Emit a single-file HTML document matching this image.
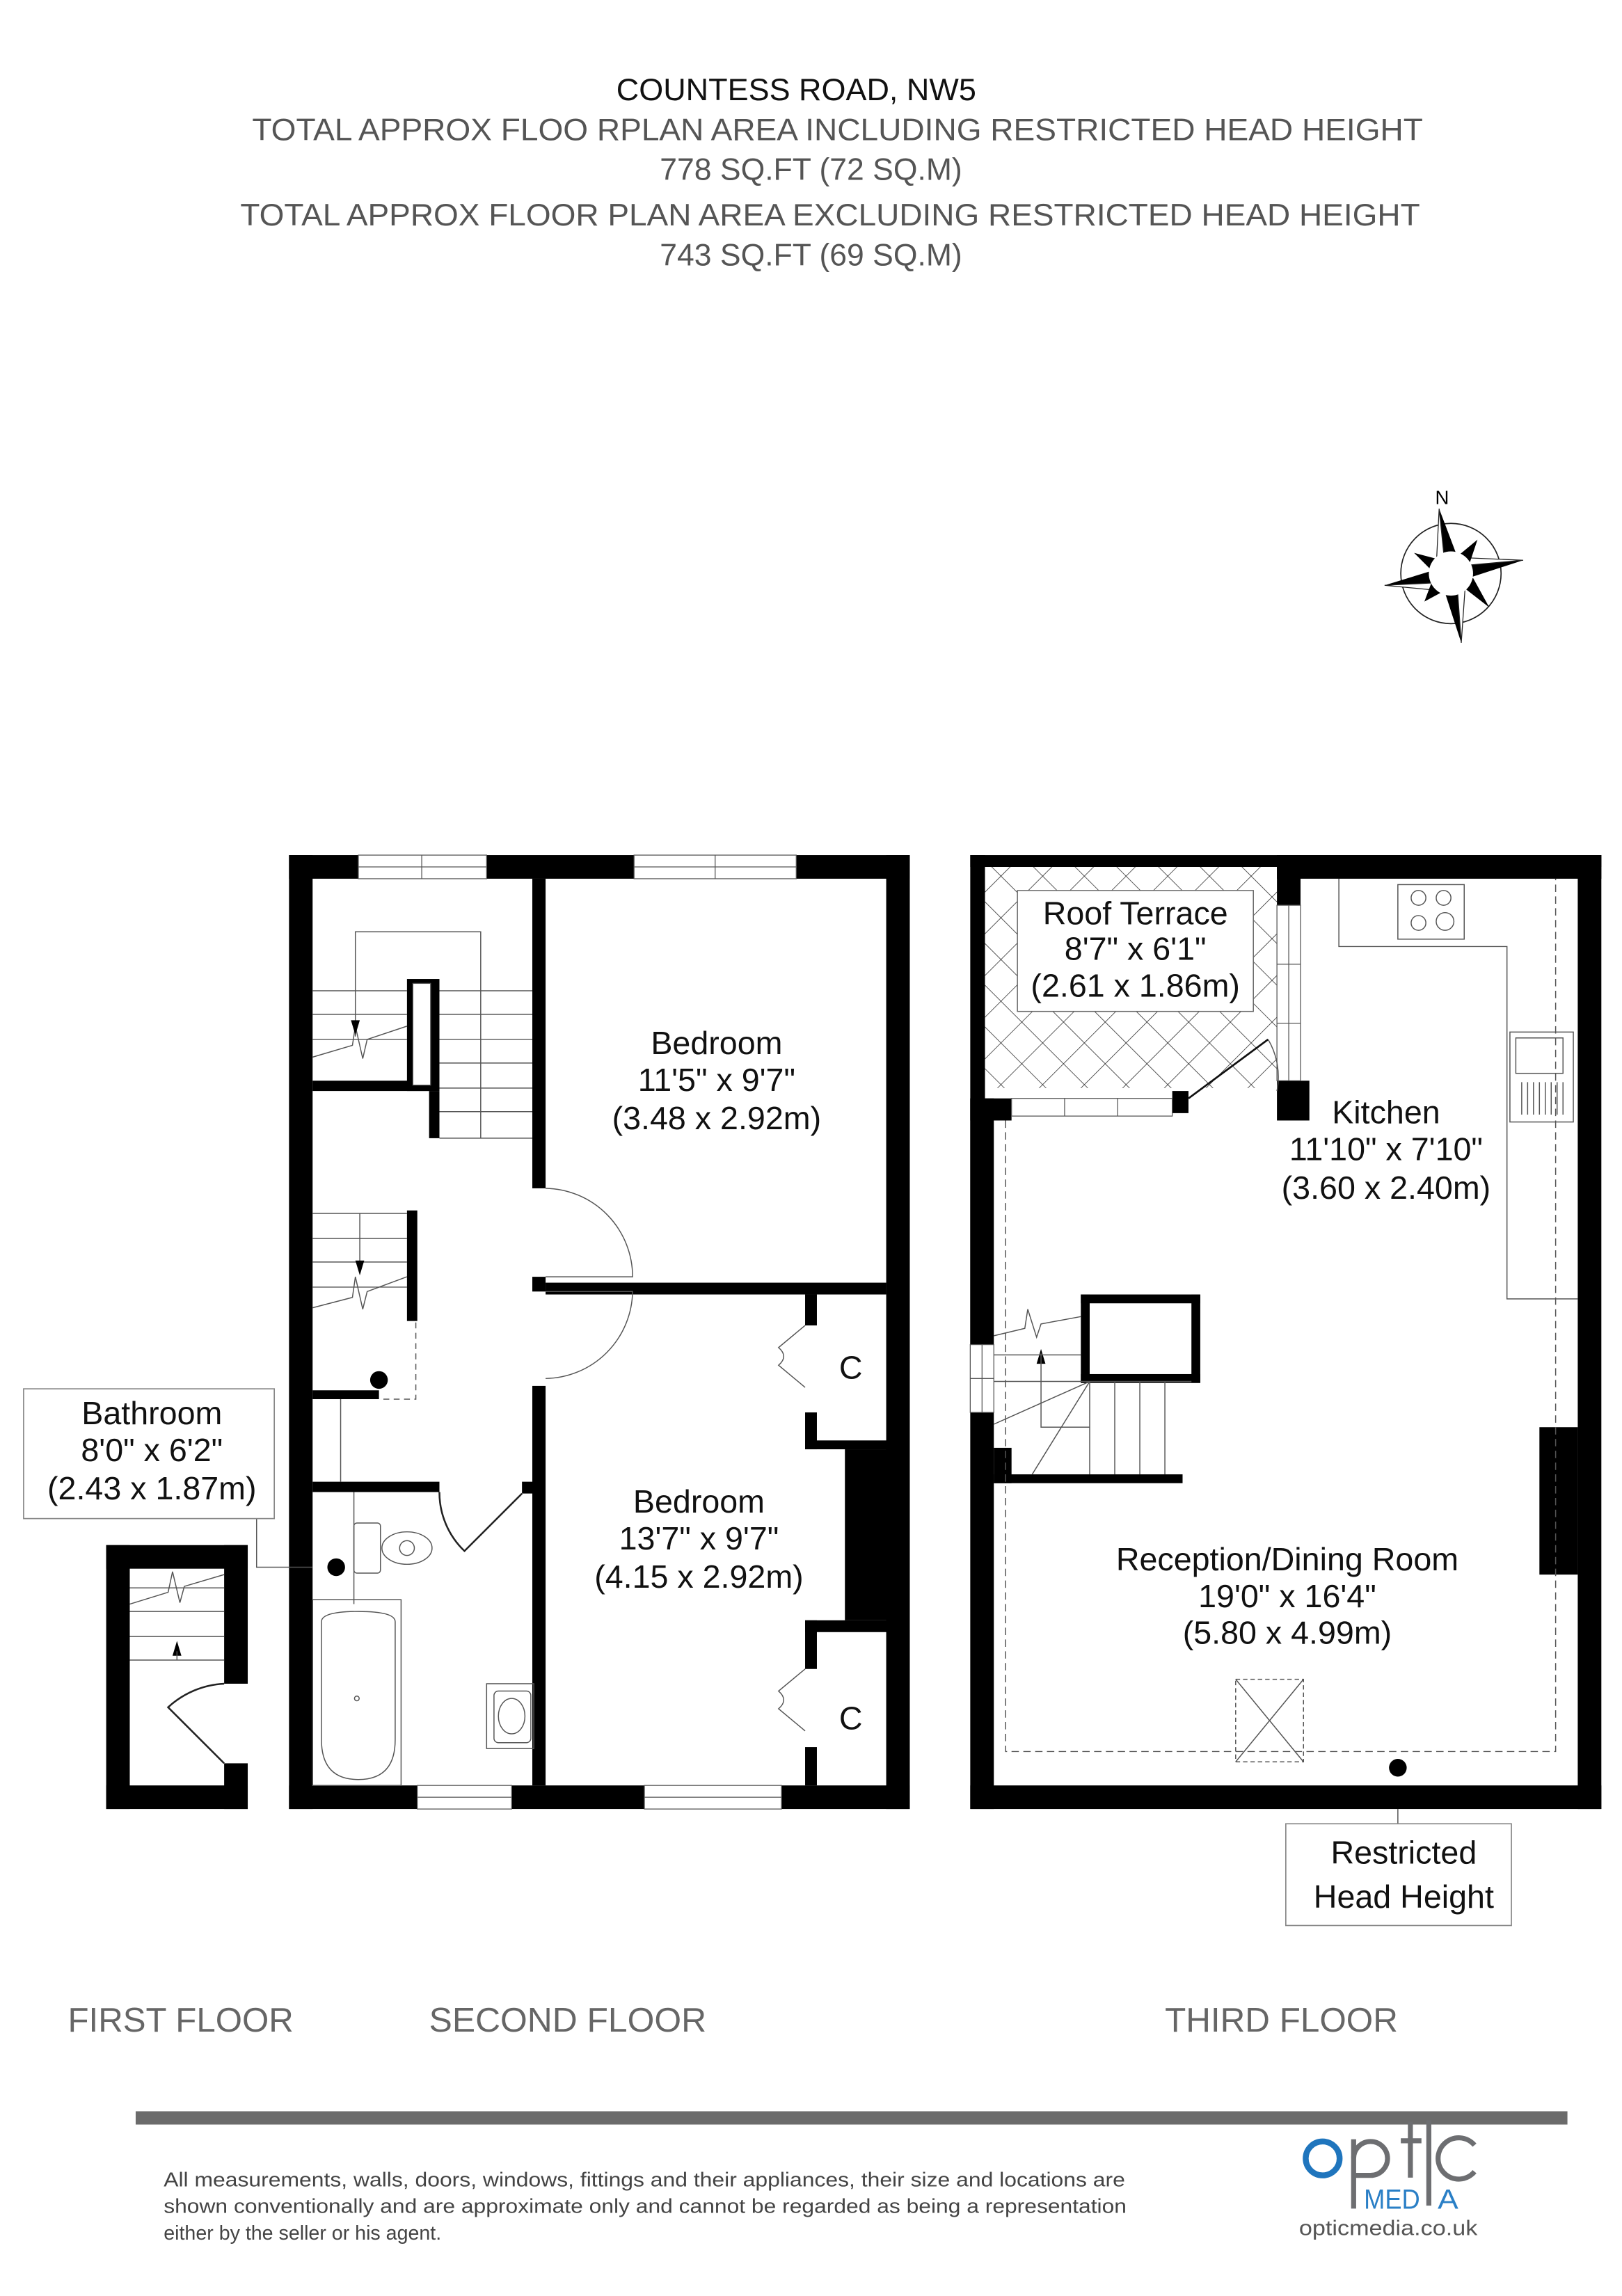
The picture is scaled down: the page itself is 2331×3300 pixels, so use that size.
<!DOCTYPE html>
<html><head><meta charset="utf-8"><style>
html,body{margin:0;padding:0;background:#fff;}
svg{display:block;}
text{font-family:"Liberation Sans",Arial,sans-serif;}
</style></head><body>
<svg width="2331" height="3300" viewBox="0 0 1100 1557.3" xmlns="http://www.w3.org/2000/svg">
<defs>
<pattern id="hatch" width="20" height="20" patternUnits="userSpaceOnUse" patternTransform="rotate(45)">
<line x1="0" y1="0" x2="0" y2="20" stroke="#222" stroke-width="0.7"/>
<line x1="0" y1="0" x2="20" y2="0" stroke="#222" stroke-width="0.7"/>
</pattern>
</defs>
<rect width="1100" height="1557.3" fill="#fff"/>

<!-- Header -->
<g text-anchor="middle" font-size="21">
<text x="540" y="68" fill="#111" textLength="244" lengthAdjust="spacingAndGlyphs">COUNTESS ROAD, NW5</text>
<text x="568" y="95" fill="#555" textLength="794" lengthAdjust="spacingAndGlyphs">TOTAL APPROX FLOO RPLAN AREA INCLUDING RESTRICTED HEAD HEIGHT</text>
<text x="550" y="122" fill="#555">778 SQ.FT (72 SQ.M)</text>
<text x="563" y="153" fill="#555" textLength="800" lengthAdjust="spacingAndGlyphs">TOTAL APPROX FLOOR PLAN AREA EXCLUDING RESTRICTED HEAD HEIGHT</text>
<text x="550" y="180" fill="#555">743 SQ.FT (69 SQ.M)</text>
</g>

<!-- Compass -->
<g>
<text x="978" y="342" font-size="13" text-anchor="middle">N</text>
<circle cx="984" cy="389" r="34" fill="none" stroke="#222" stroke-width="0.8"/>
<polygon points="976,345 990,382 980,384" fill="#000"/>
<polygon points="976,345 980,384 974,385" fill="#fff" stroke="#222" stroke-width="0.6"/>
<polygon points="991,436 978,396 988,394" fill="#000"/>
<polygon points="991,436 988,394 994,393" fill="#fff" stroke="#222" stroke-width="0.6"/>
<polygon points="1033,380 990,394 988,384" fill="#000"/>
<polygon points="1033,380 988,384 987,378" fill="#fff" stroke="#222" stroke-width="0.6"/>
<polygon points="939,397 978,385 980,395" fill="#000"/>
<polygon points="939,397 980,395 981,401" fill="#fff" stroke="#222" stroke-width="0.6"/>
<polygon points="1002,366 996,384 990,376" fill="#000"/>
<polygon points="966,408 972,392 979,401" fill="#000"/>
<polygon points="1010,412 992,398 999,392" fill="#000"/>
<polygon points="959,375 978,380 972,388" fill="#000"/>
<circle cx="984" cy="389" r="15" fill="#fff"/>
</g>

<!-- ===== SECOND FLOOR ===== -->
<g fill="#000">
<rect x="196" y="580" width="421" height="16"/>
<rect x="196" y="1211" width="421" height="16"/>
<rect x="196" y="580" width="16" height="647"/>
<rect x="601" y="580" width="16" height="647"/>
<rect x="361" y="596" width="9" height="210"/>
<rect x="361" y="866" width="9" height="10"/>
<rect x="361" y="940" width="9" height="271"/>
<rect x="370" y="870" width="231" height="8"/>
<rect x="212" y="733" width="86" height="7"/>
<rect x="276" y="664" width="22" height="76"/>
<rect x="291" y="740" width="7" height="32"/>
<rect x="276" y="821" width="7" height="75"/>
<rect x="212" y="943" width="45" height="6"/>
<rect x="212" y="1005" width="86" height="7"/>
<rect x="354" y="1005" width="8" height="8"/>
<rect x="546" y="878" width="8" height="21"/>
<rect x="546" y="958" width="8" height="25"/>
<rect x="546" y="977" width="56" height="6"/>
<rect x="573" y="983" width="29" height="116"/>
<rect x="546" y="1099" width="56" height="8"/>
<rect x="546" y="1099" width="8" height="33"/>
<rect x="546" y="1185" width="8" height="26"/>
<circle cx="257" cy="936" r="6"/>
<circle cx="228" cy="1063" r="6"/>
</g>
<g fill="#fff" stroke="#555" stroke-width="0.6">
<rect x="243" y="580" width="87" height="16"/><line x1="243" y1="588" x2="330" y2="588"/><line x1="286" y1="580" x2="286" y2="596"/>
<rect x="430" y="580" width="110" height="16"/><line x1="430" y1="588" x2="540" y2="588"/><line x1="485" y1="580" x2="485" y2="596"/>
<rect x="283" y="1211" width="64" height="16"/><line x1="283" y1="1219" x2="347" y2="1219"/>
<rect x="437" y="1211" width="93" height="16"/><line x1="437" y1="1219" x2="530" y2="1219"/>
<rect x="280" y="667" width="12" height="69"/>
</g>
<g fill="none" stroke="#555" stroke-width="0.7">
<polyline points="241,703 241,632 326,632 326,772"/>
<line x1="212" y1="672" x2="276" y2="672"/><line x1="212" y1="688" x2="276" y2="688"/><line x1="212" y1="705" x2="276" y2="705"/>
<line x1="298" y1="672" x2="361" y2="672"/><line x1="298" y1="688" x2="361" y2="688"/><line x1="298" y1="705" x2="361" y2="705"/><line x1="298" y1="721" x2="361" y2="721"/><line x1="298" y1="738" x2="361" y2="738"/><line x1="298" y1="754" x2="361" y2="754"/>
<line x1="298" y1="772" x2="361" y2="772"/>
<polyline points="212,717 239,709 241,696 246,718 249,705 276,696"/>
<line x1="212" y1="823" x2="276" y2="823"/><line x1="212" y1="840" x2="276" y2="840"/><line x1="212" y1="856" x2="276" y2="856"/><line x1="212" y1="873" x2="276" y2="873"/>
<line x1="244" y1="823" x2="244" y2="860"/>
<polyline points="212,887 239,880 241,866 246,888 249,876 276,866"/>
<polyline points="282,897 282,949 257,949" stroke-dasharray="4,3"/>
<line x1="231" y1="949" x2="231" y2="1005"/>
<polyline points="174,1030 174,1063 212,1063"/>
<path d="M370,806 A60,60 0 0 1 429,866 L370,866"/>
<path d="M370,876 L429,876 A60,60 0 0 1 370,935"/>
<path d="M298,1012 A55,55 0 0 0 315,1052 L354,1013" stroke="#222" stroke-width="1.2"/>
<line x1="240" y1="1012" x2="240" y2="1088"/>
<rect x="212" y="1085" width="60" height="126"/>
<path d="M218,1100 Q218,1093 243,1093 Q268,1093 268,1100 L268,1180 Q268,1207 243,1207 Q218,1207 218,1180 Z"/>
<circle cx="242" cy="1152" r="1.6"/>
<rect x="240" y="1033" width="18" height="34" rx="2"/>
<ellipse cx="276" cy="1050" rx="17" ry="11"/>
<ellipse cx="276" cy="1050" rx="5" ry="5"/>
<rect x="330" y="1142" width="32" height="44"/>
<rect x="335" y="1147" width="25" height="35" rx="3"/>
<ellipse cx="347" cy="1164" rx="9" ry="12"/>
<path d="M546,899 L528,914 Q535,920 528,926 L546,941"/>
<path d="M546,1132 L528,1147 Q535,1153 528,1159 L546,1174"/>
</g>
<g fill="#000">
<polygon points="238,692 244,692 241,702"/>
<polygon points="241,855 247,855 244,865"/>
</g>

<rect x="16" y="942" width="170" height="88" fill="#fff" stroke="#888" stroke-width="0.8"/>
<g text-anchor="middle" font-size="22" fill="#111">
<text x="103" y="966">Bathroom</text>
<text x="103" y="991">8'0" x 6'2"</text>
<text x="103" y="1017">(2.43 x 1.87m)</text>
</g>

<g text-anchor="middle" font-size="22" fill="#111">
<text x="486" y="715">Bedroom</text>
<text x="486" y="740">11'5" x 9'7"</text>
<text x="486" y="766">(3.48 x 2.92m)</text>
<text x="474" y="1026">Bedroom</text>
<text x="474" y="1051">13'7" x 9'7"</text>
<text x="474" y="1077">(4.15 x 2.92m)</text>
<text x="577" y="935">C</text>
<text x="577" y="1173">C</text>
</g>

<!-- ===== FIRST FLOOR small ===== -->
<g fill="#000">
<rect x="72" y="1048" width="96" height="16"/>
<rect x="72" y="1048" width="16" height="179"/>
<rect x="152" y="1048" width="16" height="94"/>
<rect x="72" y="1211" width="96" height="16"/>
<rect x="152" y="1196" width="16" height="31"/>
<polygon points="117,1123 123,1123 120,1113"/>
</g>
<g fill="none" stroke="#555" stroke-width="0.7">
<line x1="88" y1="1077" x2="152" y2="1077"/><line x1="88" y1="1093" x2="152" y2="1093"/><line x1="88" y1="1110" x2="152" y2="1110"/><line x1="88" y1="1126" x2="152" y2="1126"/>
<line x1="120" y1="1120" x2="120" y2="1126"/>
<polyline points="88,1088 114,1080 117,1066 122,1087 125,1076 152,1068"/>
<path d="M152,1142 A60,60 0 0 0 114,1158 L152,1196" stroke="#222" stroke-width="1.2"/>
</g>

<!-- ===== THIRD FLOOR ===== -->
<rect x="668" y="588" width="198" height="150" fill="url(#hatch)"/>
<rect x="690" y="604" width="160" height="82" fill="#fff" stroke="#666" stroke-width="0.7"/>
<g fill="#000">
<rect x="658" y="580" width="428" height="8"/>
<rect x="866" y="580" width="220" height="16"/>
<rect x="866" y="580" width="16" height="34"/>
<rect x="658" y="580" width="10" height="332"/>
<rect x="658" y="745" width="28" height="15"/>
<rect x="658" y="745" width="16" height="167"/>
<rect x="658" y="958" width="16" height="269"/>
<rect x="674" y="982" width="12" height="24"/>
<rect x="658" y="1211" width="428" height="16"/>
<rect x="1070" y="580" width="16" height="647"/>
<rect x="795" y="740" width="11" height="15"/>
<rect x="866" y="733" width="22" height="27"/>
<rect x="733" y="878" width="81" height="6"/>
<rect x="733" y="878" width="6" height="60"/>
<rect x="808" y="878" width="6" height="60"/>
<rect x="733" y="932" width="81" height="6"/>
<rect x="674" y="1000" width="128" height="6"/>
<rect x="1044" y="968" width="26" height="100"/>
<circle cx="948" cy="1199" r="6"/>
<polygon points="703,925 709,925 706,915"/>
</g>
<g fill="#fff" stroke="#555" stroke-width="0.6">
<rect x="686" y="745" width="109" height="12"/><line x1="722" y1="745" x2="722" y2="757"/><line x1="758" y1="745" x2="758" y2="757"/>
<rect x="866" y="614" width="16" height="119"/><line x1="874" y1="614" x2="874" y2="733"/><line x1="866" y1="654" x2="882" y2="654"/><line x1="866" y1="694" x2="882" y2="694"/>
<rect x="658" y="912" width="16" height="46"/><line x1="658" y1="935" x2="674" y2="935"/><line x1="666" y1="912" x2="666" y2="958"/>
</g>
<g fill="none" stroke="#555" stroke-width="0.7">
<line x1="806" y1="745" x2="860" y2="705" stroke="#111" stroke-width="1.3"/>
<path d="M860,705 A50,50 0 0 1 866,740"/>
<polyline points="682,760 682,1188 1055,1188 1055,596" stroke-dasharray="5,3"/>
<polyline points="908,596 908,642 1022,642 1022,881 1070,881"/>
<rect x="948" y="600" width="45" height="37"/>
<circle cx="962" cy="609" r="5"/><circle cx="979" cy="609" r="5"/><circle cx="962" cy="626" r="5"/><circle cx="980" cy="625" r="6"/>
<rect x="1024" y="700" width="43" height="61"/>
<rect x="1028" y="704" width="32" height="24"/>
<path d="M1032,734 v22 M1036,734 v22 M1040,734 v22 M1044,734 v22 M1048,734 v22 M1052,734 v22 M1056,734 v22 M1060,734 v22"/>
<line x1="674" y1="919" x2="733" y2="919"/>
<line x1="674" y1="937" x2="808" y2="937"/>
<line x1="739" y1="937" x2="739" y2="1000"/><line x1="756" y1="937" x2="756" y2="1000"/><line x1="773" y1="937" x2="773" y2="1000"/><line x1="790" y1="937" x2="790" y2="1000"/>
<line x1="674" y1="966" x2="739" y2="937"/>
<line x1="700" y1="1000" x2="739" y2="937"/>
<polyline points="706,918 706,968 739,968"/>
<polyline points="674,906 695,901 697,888 703,907 706,898 733,893"/>
<rect x="838" y="1139" width="46" height="56" stroke-dasharray="3,2"/>
<line x1="838" y1="1139" x2="884" y2="1195"/><line x1="884" y1="1139" x2="838" y2="1195"/>
<line x1="948" y1="1227" x2="948" y2="1237"/>
</g>
<rect x="872" y="1237" width="153" height="69" fill="#fff" stroke="#888" stroke-width="0.8"/>
<g text-anchor="middle" font-size="22" fill="#111">
<text x="770" y="627">Roof Terrace</text>
<text x="770" y="651">8'7" x 6'1"</text>
<text x="770" y="676">(2.61 x 1.86m)</text>
<text x="940" y="762">Kitchen</text>
<text x="940" y="787">11'10" x 7'10"</text>
<text x="940" y="813">(3.60 x 2.40m)</text>
<text x="873" y="1065">Reception/Dining Room</text>
<text x="873" y="1090">19'0" x 16'4"</text>
<text x="873" y="1115">(5.80 x 4.99m)</text>
<text x="952" y="1264">Restricted</text>
<text x="952" y="1294">Head Height</text>
</g>

<g font-size="23" fill="#666">
<text x="46" y="1378" textLength="153" lengthAdjust="spacingAndGlyphs">FIRST FLOOR</text>
<text x="291" y="1378" textLength="188" lengthAdjust="spacingAndGlyphs">SECOND FLOOR</text>
<text x="790" y="1378" textLength="158" lengthAdjust="spacingAndGlyphs">THIRD FLOOR</text>
</g>

<rect x="92" y="1432" width="971" height="9" fill="#6b6b6b"/>

<g font-size="13.5" fill="#444">
<text x="111" y="1483" textLength="652" lengthAdjust="spacingAndGlyphs">All measurements, walls, doors, windows, fittings and their appliances, their size and locations are</text>
<text x="111" y="1501" textLength="653" lengthAdjust="spacingAndGlyphs">shown conventionally and are approximate only and cannot be regarded as being a representation</text>
<text x="111" y="1519">either by the seller or his agent.</text>
</g>

<!-- Logo -->
<circle cx="897" cy="1464" r="11.5" fill="none" stroke="#1f75bd" stroke-width="4"/>
<g fill="none" stroke="#6d6e71" stroke-width="3.4">
<line x1="918" y1="1451" x2="918" y2="1498"/>
<path d="M918,1464 A11.5,11.5 0 1 1 929.5,1475.5 L918,1475.5"/>
<line x1="956.5" y1="1439" x2="956.5" y2="1477"/>
<line x1="950" y1="1452" x2="964" y2="1452"/>
<line x1="969" y1="1438" x2="969" y2="1496"/>
<path d="M1000,1455 A14,14 0 1 0 1000,1473"/>
</g>
<text x="925" y="1498" font-size="19" fill="#2a7fc6" textLength="38" lengthAdjust="spacingAndGlyphs">MED</text>
<text x="975" y="1498" font-size="19" fill="#2a7fc6" textLength="14" lengthAdjust="spacingAndGlyphs">A</text>
<text x="941.5" y="1516" font-size="14.5" fill="#555" text-anchor="middle" textLength="121" lengthAdjust="spacingAndGlyphs">opticmedia.co.uk</text>
</svg>
</body></html>
